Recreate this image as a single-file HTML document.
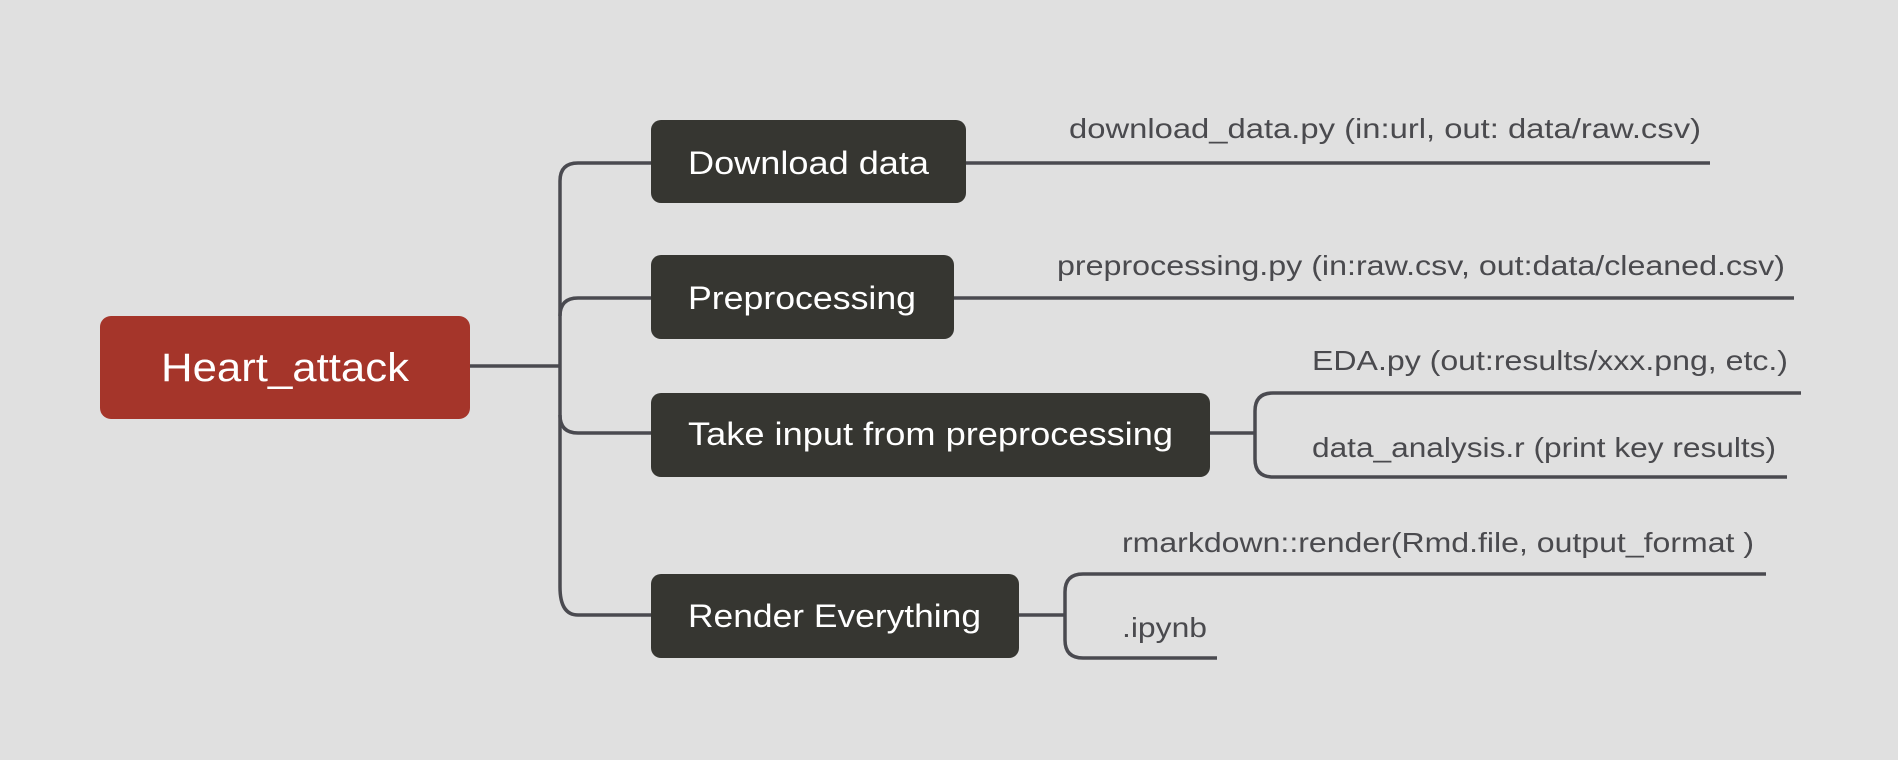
<!DOCTYPE html>
<html><head><meta charset="utf-8"><style>
html,body{margin:0;padding:0;background:#e0e0e0;}
svg{display:block;}
text{font-family:"Liberation Sans",Arial,sans-serif;}
</style></head><body>
<svg width="1898" height="760" viewBox="0 0 1898 760" xmlns="http://www.w3.org/2000/svg">
<rect width="1898" height="760" fill="#e0e0e0"/>
<g fill="none" stroke="#4a4a50" stroke-width="3.5">
<line x1="470" y1="366" x2="560" y2="366"/>
<path d="M651 163 H578 Q560 163 560 181 V587 Q560 615 578 615 H651"/>
<path d="M651 298 H578 Q560 298 560 316"/>
<path d="M560 415 Q560 433 578 433 H651"/>
<line x1="966" y1="163" x2="1710" y2="163"/>
<line x1="954" y1="298" x2="1794" y2="298"/>
<line x1="1210" y1="433" x2="1255" y2="433"/>
<path d="M1801 393 H1273 Q1255 393 1255 411 V459 Q1255 477 1273 477 H1787"/>
<line x1="1019" y1="615" x2="1065" y2="615"/>
<path d="M1766 574 H1083 Q1065 574 1065 592 V640 Q1065 658 1083 658 H1217"/>
</g>
<rect x="100" y="316" width="370" height="103" rx="11" fill="#a5352a"/>
<text x="285" y="381" font-size="40" fill="#fff" text-anchor="middle" textLength="248" lengthAdjust="spacingAndGlyphs">Heart_attack</text>
<g fill="#fff" font-size="32">
<rect x="651" y="120" width="315" height="83" rx="10" fill="#363631"/>
<rect x="651" y="255" width="303" height="84" rx="10" fill="#363631"/>
<rect x="651" y="393" width="559" height="84" rx="10" fill="#363631"/>
<rect x="651" y="574" width="368" height="84" rx="10" fill="#363631"/>
<text x="688" y="174" textLength="241" lengthAdjust="spacingAndGlyphs">Download data</text>
<text x="688" y="309" textLength="228" lengthAdjust="spacingAndGlyphs">Preprocessing</text>
<text x="688" y="445" textLength="485" lengthAdjust="spacingAndGlyphs">Take input from preprocessing</text>
<text x="688" y="627" textLength="293" lengthAdjust="spacingAndGlyphs">Render Everything</text>
</g>
<g fill="#4a4a4e" font-size="28">
<text x="1069" y="138" textLength="632" lengthAdjust="spacingAndGlyphs">download_data.py  (in:url, out: data/raw.csv)</text>
<text x="1057" y="275" textLength="728" lengthAdjust="spacingAndGlyphs">preprocessing.py (in:raw.csv, out:data/cleaned.csv)</text>
<text x="1312" y="370" textLength="476" lengthAdjust="spacingAndGlyphs">EDA.py (out:results/xxx.png, etc.)</text>
<text x="1312" y="457" textLength="464" lengthAdjust="spacingAndGlyphs">data_analysis.r (print key results)</text>
<text x="1122" y="552" textLength="632" lengthAdjust="spacingAndGlyphs">rmarkdown::render(Rmd.file, output_format )</text>
<text x="1122" y="637" textLength="85" lengthAdjust="spacingAndGlyphs">.ipynb</text>
</g>
</svg>
</body></html>
